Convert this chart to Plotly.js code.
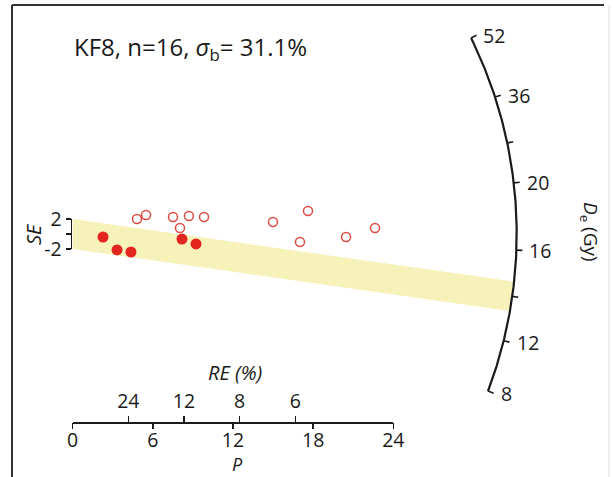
<!DOCTYPE html>
<html>
<head>
<meta charset="utf-8">
<script src="https://cdn.plot.ly/plotly-3.0.1.min.js"></script>
<style>html,body{margin:0;padding:0;background:#fff;}#chart{width:613px;height:477px;}</style>
</head>
<body>
<div id="chart"></div>
<script>
// ---------------- data ----------------
// Radial plot coordinates: precision P (= 1/relative error) and standardised estimate (SE units)
const openPrecision  = [4.81, 5.49, 7.51, 8.70, 9.83, 8.03, 14.99, 17.61, 17.01, 20.46, 22.63];
const openStdEst     = [2.00, 2.53, 2.27, 2.40, 2.27, 0.80, 1.60, 3.07, -1.07, -0.40, 0.80];
const filledPrecision = [2.27, 3.32, 4.36, 8.18, 9.23];
const filledStdEst    = [-0.40, -2.13, -2.40, -0.67, -1.33];
// central (CAM) value expressed as standardised-estimate slope per unit precision
const centralSlope = -0.2526;
const bandHalfWidth = 2;            // ±2 SE band
// bottom axes
const pTicks  = [0, 6, 12, 18, 24];
const reTicks = [24, 12, 8, 6];     // relative error (%)
// radial (De) axis tick labels
const arcTickLabels = ['52', '36', '', '20', '16', '12', '8'];
const seTickVals = [-2, 0, 2];
const seTickText = ['-2', '', '2'];
const titleText = 'KF8, n=16, <i>σ</i><sub>b</sub>= 31.1%';

// ---------------- geometry / layout constants ----------------
const W = 613, H = 477;
const X0 = 72.7, Y0 = 234;          // pixel position of the radial-plot origin
const SX = 13.36, SY = 7.5;         // px per unit precision, px per SE unit
const R_PX = 444;                   // arc radius in px
const arcTickAngles = [26.2, 17.97, 11.83, 6.61, -2.08, -13.9, -20.72]; // degrees, arc axis layout
const arcStart = -20.72, arcEnd = 26.2;
const RED = '#e2261f', RED_OPEN = '#e04a42', INK = '#1a1a1a';
const FONT = 'Open Sans';
const TICK_SIZE = 19.5;

const xr = [-X0 / SX, (W - X0) / SX];
const yr = [(Y0 - H) / SY, Y0 / SY];
const px2x = p => p / SX, px2y = p => p / SY;
const deg = Math.PI / 180;
function arcPoint(aDeg, r) { return [px2x(r * Math.cos(aDeg * deg)), px2y(r * Math.sin(aDeg * deg))]; }

// arc line
const arcX = [], arcY = [];
for (let i = 0; i <= 200; i++) {
  const a = arcStart + (arcEnd - arcStart) * i / 200;
  const p = arcPoint(a, R_PX); arcX.push(p[0]); arcY.push(p[1]);
}
// arc ticks (including central value tick)
const centralAngle = Math.atan(centralSlope * SY / SX) / deg;
const allTickAngles = arcTickAngles.concat([centralAngle]);
const tickX = [], tickY = [];
allTickAngles.forEach(a => {
  const p1 = arcPoint(a, R_PX), p2 = arcPoint(a, R_PX + 6);
  tickX.push(p1[0], p2[0], null); tickY.push(p1[1], p2[1], null);
});

// band polygon: edges y = s*P ± 2 up to the arc
function edgeEnd(c) {
  const s = centralSlope;
  const a = SX * SX + s * s * SY * SY;
  const b = 2 * s * c * SY * SY;
  const c0 = c * c * SY * SY - R_PX * R_PX;
  return (-b + Math.sqrt(b * b - 4 * a * c0)) / (2 * a);
}
const Pt = edgeEnd(bandHalfWidth), Pb = edgeEnd(-bandHalfWidth);
const angT = Math.atan2((centralSlope * Pt + bandHalfWidth) * SY, Pt * SX) / deg;
const angB = Math.atan2((centralSlope * Pb - bandHalfWidth) * SY, Pb * SX) / deg;
const bandX = [0, Pt], bandY = [bandHalfWidth, centralSlope * Pt + bandHalfWidth];
for (let i = 1; i < 30; i++) {
  const a = angT + (angB - angT) * i / 30;
  const p = arcPoint(a, R_PX); bandX.push(p[0]); bandY.push(p[1]);
}
bandX.push(Pb, 0); bandY.push(centralSlope * Pb - bandHalfWidth, -bandHalfWidth);

const traces = [
  {x: bandX, y: bandY, mode: 'lines', fill: 'toself', fillcolor: 'rgb(246,242,186)',
   line: {width: 0, color: 'rgba(0,0,0,0)'}, hoverinfo: 'skip', showlegend: false},
  {x: arcX, y: arcY, mode: 'lines', line: {color: INK, width: 2.2}, hoverinfo: 'skip', showlegend: false},
  {x: tickX, y: tickY, mode: 'lines', line: {color: INK, width: 1.6}, hoverinfo: 'skip', showlegend: false},
  {x: openPrecision, y: openStdEst, mode: 'markers', showlegend: false,
   marker: {symbol: 'circle-open', size: 9, color: RED_OPEN, line: {width: 1.5, color: RED_OPEN}}},
  {x: filledPrecision, y: filledStdEst, mode: 'markers', showlegend: false,
   marker: {symbol: 'circle', size: 11, color: RED}},
  // anchors for the visible axes
  {x: [null], y: [null], xaxis: 'x2', yaxis: 'y', showlegend: false, hoverinfo: 'skip'},
  {x: [null], y: [null], xaxis: 'x3', yaxis: 'y', showlegend: false, hoverinfo: 'skip'},
  {x: [null], y: [null], xaxis: 'x4', yaxis: 'y', showlegend: false, hoverinfo: 'skip'},
  {x: [null], y: [null], xaxis: 'x', yaxis: 'y2', showlegend: false, hoverinfo: 'skip'}
];

const axisY = 1 - 422 / H;
const pDomain = [X0 / W, (X0 + 24 * SX) / W];
const tickFont = {family: FONT, size: TICK_SIZE, color: INK};

function note(xpx, ypx, text, size, angle) {
  return {xref: 'paper', yref: 'paper', x: xpx / W, y: 1 - ypx / H, xanchor: 'center', yanchor: 'middle',
    textangle: angle || 0, text: text, showarrow: false, font: {family: FONT, size: size, color: INK}};
}
const annotations = [
  Object.assign(note(72, 48, titleText, 24), {xanchor: 'left'}),
  note(590, 232, '<i>D</i><sub>e</sub> (Gy)', 19, 90),
  note(33, 234, '<i>SE</i>', 20, -90),
  note(235, 372, '<i>RE (%)</i>', 20),
  note(237, 464, '<i>P</i>', 18)
];
arcTickLabels.forEach((lab, i) => {
  if (!lab) return;
  const p = arcPoint(arcTickAngles[i], R_PX + 6);
  annotations.push({xref: 'x', yref: 'y', x: p[0], y: p[1], xanchor: 'left', yanchor: 'middle',
    xshift: 5, text: lab, showarrow: false, font: {family: FONT, size: TICK_SIZE, color: INK}});
});

const layout = {
  width: W, height: H, margin: {l: 0, r: 0, t: 0, b: 0},
  paper_bgcolor: '#ffffff', plot_bgcolor: 'rgba(0,0,0,0)', showlegend: false,
  xaxis: {domain: [0, 1], range: xr, visible: false, fixedrange: true},
  yaxis: {domain: [0, 1], range: yr, visible: false, fixedrange: true},
  // P axis: line + labels (labels close to line)
  xaxis2: {domain: pDomain, range: [0, 24], anchor: 'free', position: axisY, side: 'bottom',
    showline: true, linecolor: INK, linewidth: 1.5, showgrid: false, zeroline: false,
    ticks: '', tickmode: 'array', tickvals: pTicks, ticktext: pTicks.map(String), tickfont: tickFont},
  // P axis tick marks (downward)
  xaxis4: {domain: pDomain, range: [0, 24], anchor: 'free', position: axisY, side: 'bottom',
    showline: false, showgrid: false, zeroline: false, showticklabels: false,
    ticks: 'outside', ticklen: 6, tickwidth: 1.5, tickcolor: INK, tickmode: 'array', tickvals: pTicks},
  // RE axis (upward ticks)
  xaxis3: {domain: pDomain, range: [0, 24], anchor: 'free', position: axisY, side: 'top',
    showline: false, showgrid: false, zeroline: false,
    ticks: 'outside', ticklen: 6, tickwidth: 1.5, tickcolor: INK,
    tickmode: 'array', tickvals: reTicks.map(r => 100 / r), ticktext: reTicks.map(String), tickfont: tickFont},
  yaxis2: {domain: [1 - (Y0 + 2 * SY) / H, 1 - (Y0 - 2 * SY) / H], range: [-2, 2], anchor: 'free',
    position: 70.5 / W, side: 'left', showline: true, linecolor: INK, linewidth: 1.5,
    showgrid: false, zeroline: false, ticks: 'outside', ticklen: 5, tickwidth: 1.5, tickcolor: INK,
    tickmode: 'array', tickvals: seTickVals, ticktext: seTickText, tickfont: tickFont},
  shapes: [
    {type: 'line', xref: 'paper', yref: 'paper', x0: 12 / W, x1: 604 / W, y0: 1 - 5 / H, y1: 1 - 5 / H,
     line: {color: '#333', width: 2}},
    {type: 'line', xref: 'paper', yref: 'paper', x0: 12 / W, x1: 12 / W, y0: 1 - 5 / H, y1: 0,
     line: {color: '#333', width: 2}},
    {type: 'line', xref: 'paper', yref: 'paper', x0: 609 / W, x1: 609 / W, y0: 1 - 5 / H, y1: 0,
     line: {color: '#dddddd', width: 1}}
  ],
  annotations: annotations
};

Plotly.newPlot('chart', traces, layout, {displayModeBar: false, staticPlot: true});
</script>
</body>
</html>
